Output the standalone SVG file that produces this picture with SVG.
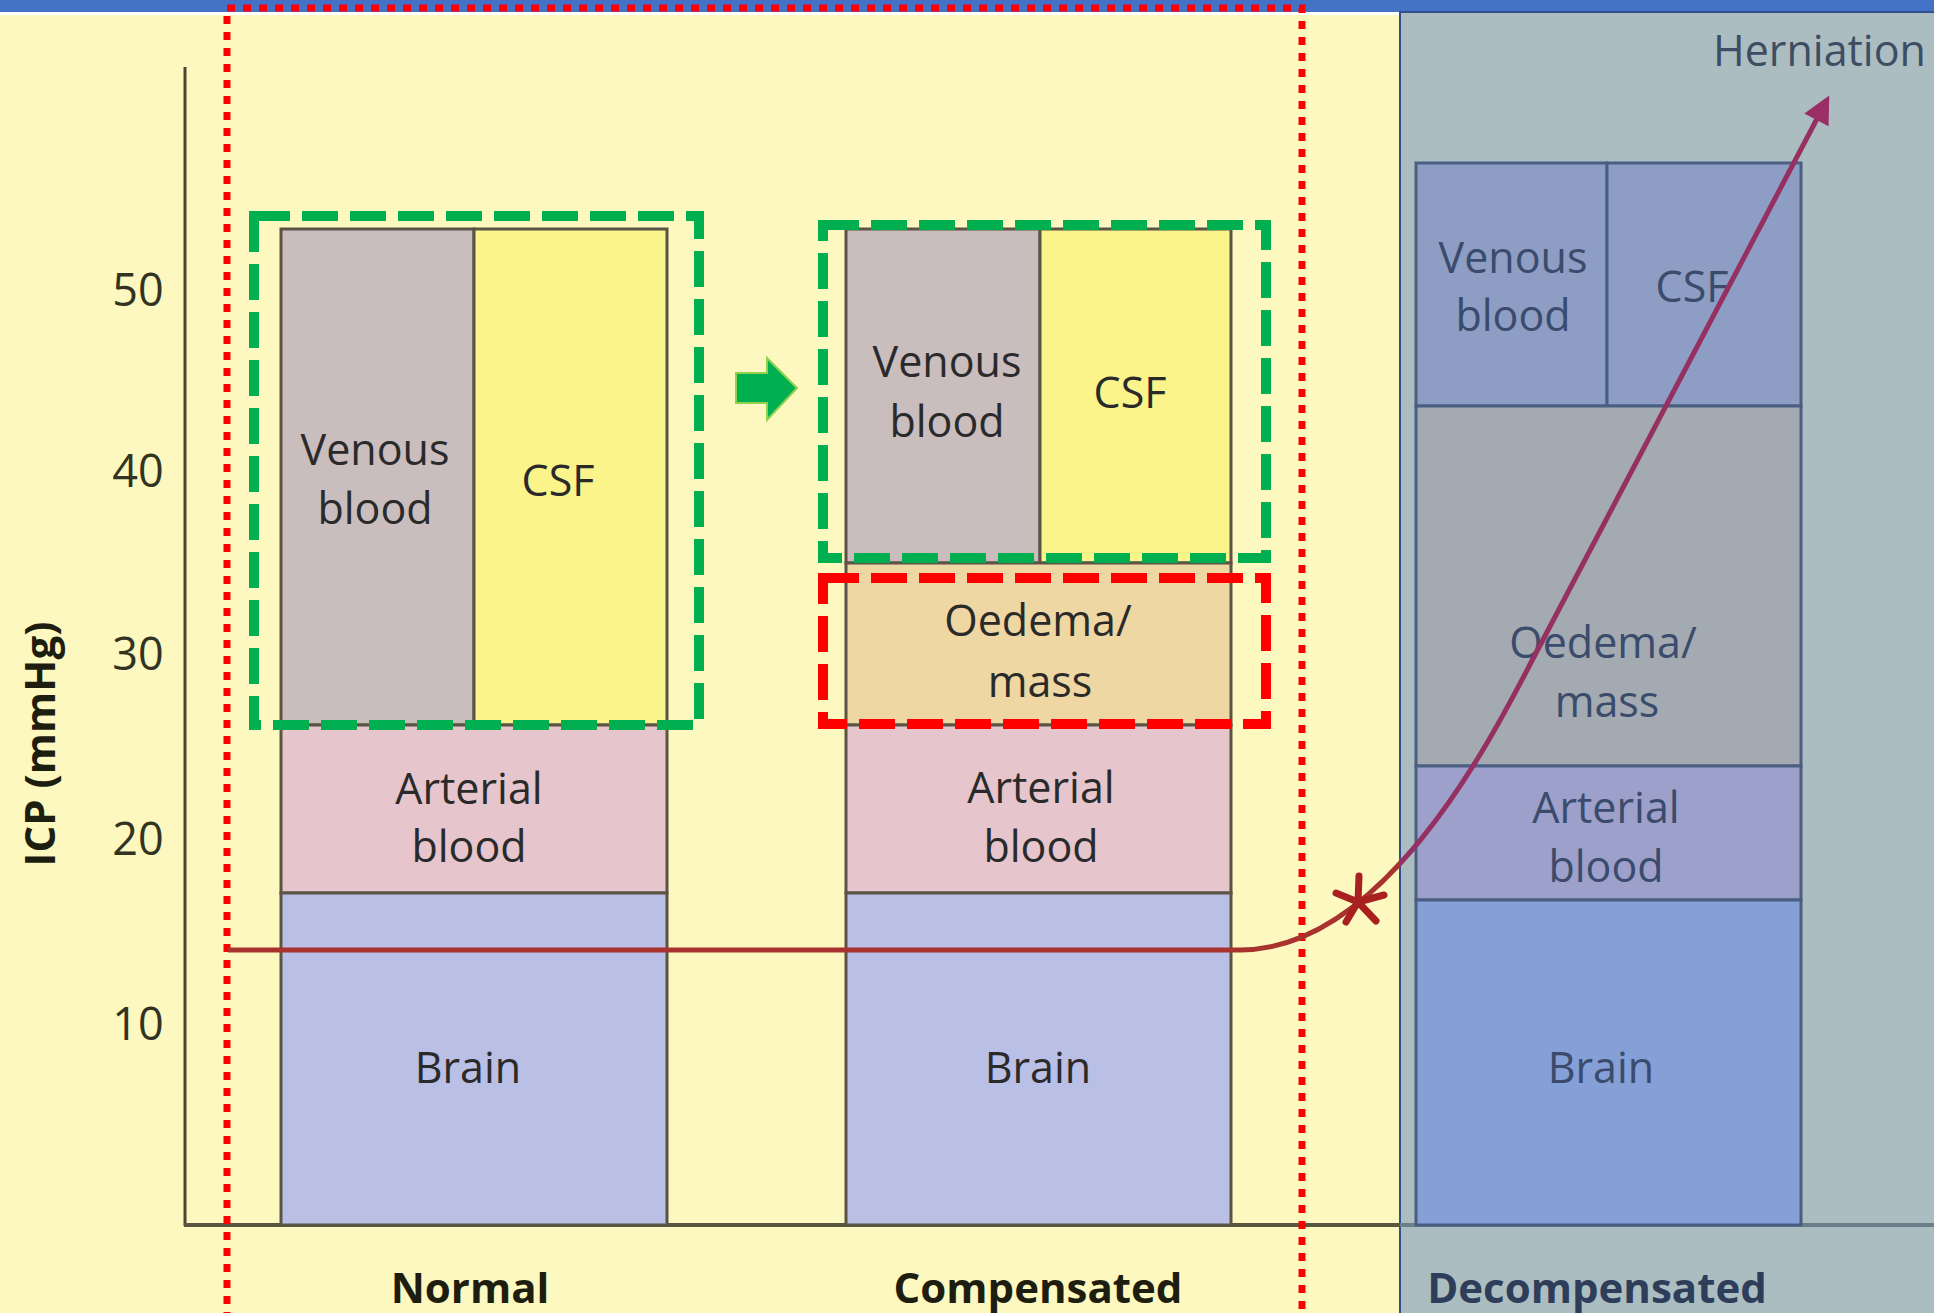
<svg xmlns="http://www.w3.org/2000/svg" width="1934" height="1313" viewBox="0 0 1934 1313">
<defs>
<style>
.lbl{font-family:"Open Sans","Noto Sans",sans-serif;font-size:43px;fill:#2a2a2a;text-anchor:middle}
.dlbl{font-family:"Open Sans","Noto Sans",sans-serif;font-size:43px;fill:#3a4b6c;text-anchor:middle}
.tick{font-family:"Open Sans","Noto Sans",sans-serif;font-size:45px;fill:#333322;text-anchor:middle}
.cat{font-family:"Open Sans","Noto Sans",sans-serif;font-size:42px;font-weight:bold;fill:#1e1e10;text-anchor:middle}
.cell{stroke:#5a5445;stroke-width:3}
.dcell{stroke:#4a5e82;stroke-width:3}
.gdash{fill:none;stroke:#00B050;stroke-width:10;stroke-dasharray:36 12}
.rdash{fill:none;stroke:#FF0000;stroke-width:10;stroke-dasharray:36 12}
.rdot{fill:none;stroke:#FF0000;stroke-width:7;stroke-dasharray:8 8}
.icp{fill:none;stroke-width:5}
</style>
<clipPath id="leftClip"><rect x="0" y="0" width="1400" height="1313"/></clipPath>
<clipPath id="rightClip"><rect x="1400" y="0" width="534" height="1313"/></clipPath>
<marker id="arrowHead" viewBox="0 0 10 10" refX="2" refY="5" markerWidth="6.5" markerHeight="5.5" orient="auto" markerUnits="strokeWidth">
<path d="M0,0 L10,5 L0,10 z" fill="#9A2F66"/>
</marker>
</defs>

<!-- backgrounds -->
<rect x="0" y="0" width="1934" height="1313" fill="#FCF8C0"/>
<rect x="0" y="0" width="1934" height="12" fill="#4472C4"/>
<rect x="0" y="12" width="1934" height="3" fill="#FFFFFF"/>
<rect id="decomp-panel" x="1400" y="12" width="536" height="1303" fill="#ABBDC1" stroke="#2F4F8F" stroke-width="2"/>

<!-- axes -->
<g id="axes">
<line x1="185" y1="67" x2="185" y2="1226" stroke="#4a4632" stroke-width="3"/>
<line x1="184" y1="1225" x2="1400" y2="1225" stroke="#5a5640" stroke-width="4"/>
<line x1="1400" y1="1225" x2="1934" y2="1225" stroke="#6b7f8a" stroke-width="4"/>
<text class="tick" x="138" y="306">50</text>
<text class="tick" x="138" y="487">40</text>
<text class="tick" x="138" y="670">30</text>
<text class="tick" x="138" y="855">20</text>
<text class="tick" x="138" y="1040">10</text>
<text transform="translate(55,744) rotate(-90)" font-family="Open Sans, Noto Sans, sans-serif" font-size="42" font-weight="bold" fill="#1e1e10" text-anchor="middle">ICP (mmHg)</text>
</g>

<!-- Normal column -->
<g id="normal">
<rect class="cell" x="281" y="229" width="193" height="496" fill="#C9BDBD"/>
<rect class="cell" x="474" y="229" width="193" height="496" fill="#FAF48A"/>
<rect class="cell" x="281" y="725" width="386" height="168" fill="#E6C5CC"/>
<rect class="cell" x="281" y="893" width="386" height="332" fill="#BABFE5"/>
<text class="lbl" x="375" y="465">Venous</text>
<text class="lbl" x="375" y="524">blood</text>
<text class="lbl" x="558" y="496">CSF</text>
<text class="lbl" x="469" y="804">Arterial</text>
<text class="lbl" x="469" y="862">blood</text>
<text class="lbl" x="468" y="1083">Brain</text>
<text class="cat" x="470" y="1303">Normal</text>
</g>

<!-- Compensated column -->
<g id="compensated">
<rect class="cell" x="846" y="229" width="194" height="334" fill="#C9BDBD"/>
<rect class="cell" x="1040" y="229" width="191" height="334" fill="#FAF48A"/>
<rect class="cell" x="846" y="563" width="385" height="162" fill="#EED7A2"/>
<rect class="cell" x="846" y="725" width="385" height="168" fill="#E6C5CC"/>
<rect class="cell" x="846" y="893" width="385" height="332" fill="#BABFE5"/>
<text class="lbl" x="947" y="377">Venous</text>
<text class="lbl" x="947" y="437">blood</text>
<text class="lbl" x="1130" y="408">CSF</text>
<text class="lbl" x="1038" y="636">Oedema/</text>
<text class="lbl" x="1040" y="697">mass</text>
<text class="lbl" x="1041" y="803">Arterial</text>
<text class="lbl" x="1041" y="862">blood</text>
<text class="lbl" x="1038" y="1083">Brain</text>
<text class="cat" x="1038" y="1303">Compensated</text>
</g>

<!-- Decompensated column -->
<g id="decompensated">
<rect class="dcell" x="1416" y="163" width="191" height="243" fill="#8D9DC3"/>
<rect class="dcell" x="1607" y="163" width="194" height="243" fill="#8D9DC3"/>
<rect class="dcell" x="1416" y="406" width="385" height="360" fill="#A3AAB1"/>
<rect class="dcell" x="1416" y="766" width="385" height="134" fill="#9DA0CA"/>
<rect class="dcell" x="1416" y="900" width="385" height="325" fill="#859FD7"/>
<text class="dlbl" x="1513" y="273">Venous</text>
<text class="dlbl" x="1513" y="331">blood</text>
<text class="dlbl" x="1692" y="302">CSF</text>
<text class="dlbl" x="1603" y="658">Oedema/</text>
<text class="dlbl" x="1607" y="717">mass</text>
<text class="dlbl" x="1606" y="823">Arterial</text>
<text class="dlbl" x="1606" y="882">blood</text>
<text class="dlbl" x="1601" y="1083">Brain</text>
<text x="1597" y="1303" font-family="Open Sans, Noto Sans, sans-serif" font-size="42" font-weight="bold" fill="#2e3e5a" text-anchor="middle">Decompensated</text>
<text x="1713" y="66" font-family="Open Sans, Noto Sans, sans-serif" font-size="43" fill="#3d4d63">Herniation</text>
</g>

<!-- highlight boxes -->
<g id="highlights">
<rect class="gdash" x="254" y="216" width="445" height="509"/>
<rect class="gdash" x="823" y="225" width="443" height="333"/>
<rect class="rdash" x="823" y="578" width="443" height="146"/>
<path class="rdot" d="M227,1320 V8 H1302 V1320"/>
</g>

<!-- connectors -->
<g id="connectors">
<path d="M736,373 H767 V358 L797,388 L767,420 V403 H736 Z" fill="#00B050" stroke="#92D050" stroke-width="2"/>
<path class="icp" stroke="#A8322D" clip-path="url(#leftClip)" d="M228,950 H1240 C1390,950 1500,721 1536,653 L1819,115"/>
<path class="icp" stroke="#962F62" stroke-width="4.5" clip-path="url(#rightClip)" marker-end="url(#arrowHead)" d="M228,950 H1240 C1390,950 1500,721 1536,653 L1819,115"/>
<g id="star" stroke="#A82020" stroke-width="7" stroke-linecap="round" fill="none">
<path d="M1358,902 L1359,876 M1358,902 L1336,893 M1358,902 L1384,895 M1358,902 L1346,922 M1358,902 L1376,921"/>
</g>
</g>
</svg>
